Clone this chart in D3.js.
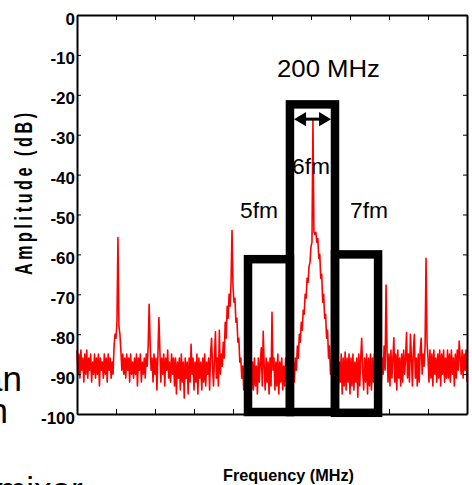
<!DOCTYPE html>
<html><head><meta charset="utf-8">
<script src="https://cdn.jsdelivr.net/npm/d3@7"></script>
<style>body{margin:0;background:#fff}svg{display:block}</style>
</head><body><svg id="c" width="472" height="485"></svg>
<script>
// ---------- data ----------
const freqStartMHz = 0;
const freqStepMHz = 5;
const amplitudeDb = [
 -84,-90,-85,-91,-84,-89,-86,-92,-85,-90,-84,-91,-86,-89,-85,-92,-87,-90,-85,-91,
 -86,-90,-85,-93,-86,-89,-87,-91,-85,-90,-86,-92,-85,-89,-86,-91,-87,-90,-83,-80,
 -81,-77,-55.8,-78,-80,-84,-89,-85,-90,-86,-91,-85,-89,-86,-92,-85,-90,-87,-91,-86,
 -90,-85,-93,-86,-89,-85,-92,-87,-90,-86,-91,-85,-88,-83,-72.5,-82,-89,-86,-92,-85,
 -90,-86,-94,-85,-75.8,-84,-92,-86,-90,-85,-93,-86,-89,-84,-91,-87,-92,-85,-90,-86,
 -93,-86,-95,-87,-91,-86,-94,-85,-92,-87,-96,-86,-91,-87,-95,-86,-92,-82.5,-90,-86,
 -94,-87,-92,-85,-95,-86,-91,-87,-94,-86,-92,-85,-93,-87,-90,-86,-94,-85,-81,-88,
 -93,-86,-79.4,-91,-86,-93,-79,-90,-85,-88,-82,-86,-77,-81,-73,-76,-70,-73,-67,-54,
 -68,-72,-71,-77,-76,-82,-81,-87,-86,-91,-88,-94,-87,-93,-86,-95,-87,-93,-86,-94,
 -87,-94,-86,-93,-88,-95,-86,-92,-87,-83.4,-93,-79.3,-88,-94,-86,-92,-87,-95,-86,-93,
 -74.5,-89,-86,-94,-87,-93,-85,-95,-87,-92,-86,-94,-88,-93,-86,-92,-87,-94,-86,-93,
 -88,-93,-87,-92,-86,-89,-83,-86,-80,-82,-77,-79,-74,-75,-70,-71,-66,-67,-63,-62,
 -58,-57,-26.3,-54.3,-55,-54.5,-57,-56,-61,-60,-66,-65,-72,-70,-76,-75,-81,-79,-86,-83,
 -90,-87,-93,-88,-95,-86,-93,-85,-94,-87,-92,-85,-95,-86,-93,-84.5,-94,-86,-92,-85,
 -95,-86,-93,-85,-94,-87,-92,-86,-95.8,-85,-93,-86,-81,-89,-94,-86,-92,-85,-95,-86,
 -93,-85,-94,-86,-92,-85,-93,-86,-91,-84,-92,-85,-93,-86,-90,-83,-89,-67.7,-84,-92,
 -85,-93,-84,-91,-86,-80.9,-92,-85,-94,-84,-91,-86,-93,-85,-92,-84,-90,-86,-79.6,-91,
 -85,-92,-80,-86,-93,-84,-80,-91,-86,-93,-85,-92,-84,-81,-90,-85,-88,-83,-61,-82,
 -86,-92,-84,-91,-85,-93,-84,-90,-86,-92,-85,-91,-84,-93,-85,-90,-84,-92,-86,-91,
 -84,-91,-85,-92,-84,-90,-86,-93,-85,-91,-84,-89,-81.7,-86,-90,-84,-91,-85,-89,-84,
 -92
];
const xDomainMHz = [0, 2000];
const yDomainDb = [-100, 0];
const xTickValues = [0, 200, 400, 600, 800, 1000, 1200, 1400, 1600, 1800, 2000];
const yTickValues = [0, -10, -20, -30, -40, -50, -60, -70, -80, -90, -100];
const yTickLabels = ["0", "-10", "-20", "-30", "-40", "-50", "-60", "-70", "-80", "-90", "-100"];
const bandNames = ["5fm", "6fm", "7fm"];
const bandStartMHz = [877, 1092, 1323];
const bandEndMHz = [1092, 1323, 1544];
const bandTopDb = [-61.2, -22.4, -60.0];
const bandBottomDb = [-99.5, -99.5, -99.7];
const spanStartMHz = 1113;
const spanEndMHz = 1303;
const spanLevelDb = -26.1;
const spanLabel = "200 MHz";
const xTitle = "Frequency (MHz)";
const yTitle = "Amplitude (dB)";
const slideFragments = ["an", "n", "mixer"];

// ---------- drawing ----------
const svg = d3.select("#c");
svg.append("rect").attr("width", 472).attr("height", 485).attr("fill", "#fff");

const x = d3.scaleLinear().domain(xDomainMHz).range([77, 467]);
const y = d3.scaleLinear().domain(yDomainDb).range([414, 15]);

const FONT = "'Liberation Sans', Arial, Helvetica, sans-serif";

// background slide fragments
const frag = svg.append("g").attr("font-family", FONT).attr("font-size", 35).attr("fill", "#000");
frag.append("text").attr("x", 22).attr("y", 390.5).attr("text-anchor", "end").text(slideFragments[0]);
frag.append("text").attr("x", 8).attr("y", 423).attr("text-anchor", "end").text(slideFragments[1]);
frag.append("text").attr("x", -3).attr("y", 502).text(slideFragments[2]);

// trace
const line = d3.line()
  .x((d, i) => x(freqStartMHz + i * freqStepMHz))
  .y(d => y(d));
svg.append("path")
  .datum(amplitudeDb)
  .attr("d", line)
  .attr("fill", "none")
  .attr("stroke", "#ff0000")
  .attr("stroke-width", 1.6)
  .attr("stroke-linejoin", "round");

// axes (box, ticks inward)
function styleAxis(g) {
  g.select(".domain").attr("stroke", "#000").attr("stroke-width", 2);
  g.selectAll(".tick line").attr("stroke", "#000").attr("stroke-width", 1);
}
const gl = svg.append("g").attr("transform", "translate(77,0)")
  .call(d3.axisLeft(y).tickValues(yTickValues).tickFormat((d, i) => yTickLabels[i])
    .tickSize(-4).tickSizeOuter(0).tickPadding(2));
styleAxis(gl);
gl.attr("font-family", FONT).attr("font-size", 17).attr("font-weight", "bold");
gl.selectAll("text").attr("dy", 9).attr("fill", "#000");

const gr = svg.append("g").attr("transform", "translate(467,0)")
  .call(d3.axisRight(y).tickValues(yTickValues).tickFormat("").tickSize(-4).tickSizeOuter(0));
styleAxis(gr);
const gb = svg.append("g").attr("transform", "translate(0,414)")
  .call(d3.axisBottom(x).tickValues(xTickValues).tickFormat("").tickSize(-5).tickSizeOuter(0));
styleAxis(gb);
const gt = svg.append("g").attr("transform", "translate(0,15)")
  .call(d3.axisTop(x).tickValues(xTickValues).tickFormat("").tickSize(-5).tickSizeOuter(0));
styleAxis(gt);

// titles
svg.append("text")
  .attr("x", 288.5).attr("y", 481)
  .attr("text-anchor", "middle")
  .attr("font-family", FONT).attr("font-size", 17).attr("font-weight", "bold")
  .attr("textLength", 131).attr("lengthAdjust", "spacingAndGlyphs")
  .text(xTitle);

const yScaleX = 0.67;
svg.append("text")
  .attr("transform", `translate(32,194) rotate(-90) scale(${yScaleX},1)`)
  .attr("x", -162 / yScaleX / 2).attr("y", 0)
  .attr("font-family", FONT).attr("font-size", 24).attr("font-weight", "bold")
  .attr("textLength", 162 / yScaleX).attr("lengthAdjust", "spacing")
  .text(yTitle);

// band rectangles
const bands = bandNames.map((n, i) => ({
  name: n, x0: bandStartMHz[i], x1: bandEndMHz[i], top: bandTopDb[i], bottom: bandBottomDb[i]
}));
svg.append("g").selectAll("rect").data(bands).join("rect")
  .attr("x", d => x(d.x0))
  .attr("y", d => y(d.top))
  .attr("width", d => x(d.x1) - x(d.x0))
  .attr("height", d => y(d.bottom) - y(d.top))
  .attr("fill", "none")
  .attr("stroke", "#000")
  .attr("stroke-width", 8.5);

// span arrow
const ax0 = x(spanStartMHz), ax1 = x(spanEndMHz), ay = y(spanLevelDb);
const headL = 12, headH = 7.2;
svg.append("line")
  .attr("x1", ax0 + headL - 1).attr("x2", ax1 - headL + 1)
  .attr("y1", ay).attr("y2", ay)
  .attr("stroke", "#000").attr("stroke-width", 3);
svg.append("path")
  .attr("d", `M${ax0},${ay}L${ax0 + headL},${ay - headH}L${ax0 + headL},${ay + headH}Z`
           + `M${ax1},${ay}L${ax1 - headL},${ay - headH}L${ax1 - headL},${ay + headH}Z`)
  .attr("fill", "#000");

// annotation texts
const ann = svg.append("g").attr("font-family", FONT).attr("fill", "#000").attr("text-anchor", "middle");
ann.append("text").attr("x", 328.5).attr("y", 77).attr("font-size", 24)
  .attr("textLength", 103).attr("lengthAdjust", "spacingAndGlyphs").text(spanLabel);
const bandLabelPos = [[259, 217.5], [311, 173.5], [369, 217.5]];
bandNames.forEach((n, i) => {
  ann.append("text").attr("x", bandLabelPos[i][0]).attr("y", bandLabelPos[i][1])
    .attr("font-size", 22).attr("textLength", 38).attr("lengthAdjust", "spacingAndGlyphs").text(n);
});
</script>
</body></html>
